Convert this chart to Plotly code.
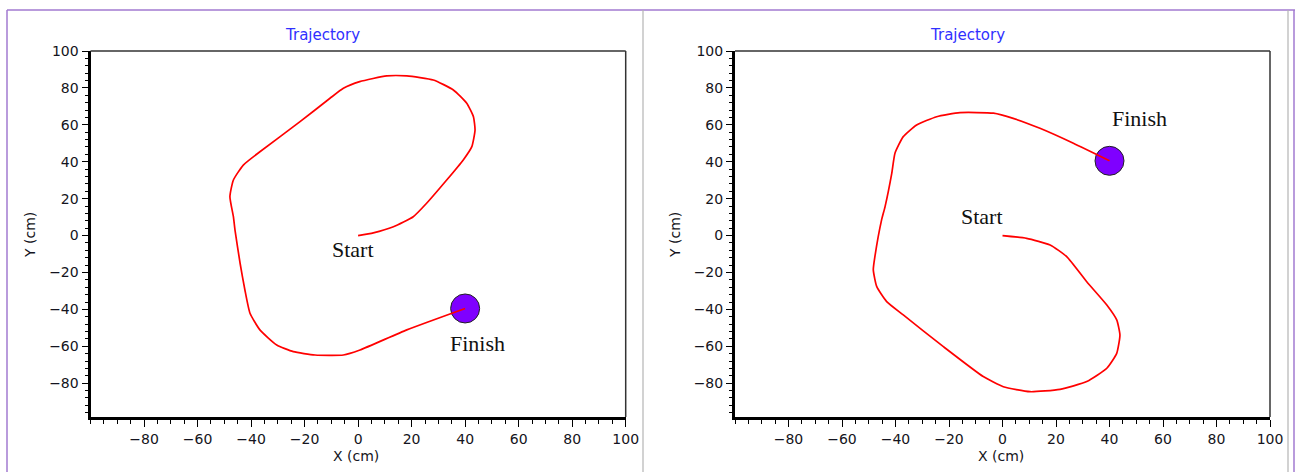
import plotly.graph_objects as go

# ---------------- data ----------------
left_x = [0, 5.7, 13.2, 20.6, 25.6, 33.1, 39.3, 42.5, 43.7, 43.1, 40.6, 35.6, 28.1, 18.2,
          10.7, 0.6, -5.5, -10.5, -21.7, -36.7, -42.9, -46.6, -47.9, -46.6, -46.0, -44.1,
          -42.3, -40.4, -36.7, -30.4, -24.2, -16.1, -5.5, 0.7, 18.2, 40]
left_y = [0, 1.5, 4.8, 10.2, 17.5, 30.1, 41.0, 48.2, 57.2, 64.4, 71.7, 78.9, 84.3, 86.5,
          86.5, 83.4, 79.8, 74.4, 61.7, 45.4, 38.2, 30.1, 21.1, 10.2, 3.0, -15.0,
          -29.5, -42.1, -51.1, -59.3, -62.9, -64.7, -64.7, -62.0, -51.1, -39.5]

right_x = [0, 9.0, 17.8, 24.0, 31.5, 39.0, 42.7, 43.9, 42.7, 39.0, 31.5, 21.5, 10.3, 0.3,
           -7.2, -22.1, -37.1, -43.3, -47.0, -48.3, -47.7, -45.2, -43.9, -41.4, -40.2,
           -37.1, -32.1, -24.6, -15.9, -3.4, 4.0, 14.0, 26.5, 40]
right_y = [0, -1.5, -5.1, -11.4, -25.0, -37.6, -45.7, -53.9, -63.8, -71.9, -79.1, -83.3,
           -84.6, -81.9, -76.4, -60.2, -43.0, -35.8, -27.7, -18.6, -11.4, 8.5, 15.7, 33.7,
           44.6, 53.6, 59.9, 64.4, 66.6, 66.3, 63.5, 58.1, 50.0, 40.5]

x_tickvals = [-80, -60, -40, -20, 0, 20, 40, 60, 80, 100]
y_tickvals = [-80, -60, -40, -20, 0, 20, 40, 60, 80, 100]

title_text = "Trajectory"
x_title = "X (cm)"
y_title = "Y (cm)"

left_labels = [("Start", -2, -7.8), ("Finish", 44.5, -58.3)]
right_labels = [("Start", -7.7, 10.6), ("Finish", 51.2, 63.6)]

# ---------------- figure ----------------
W, H = 1295, 472
def px(x):
    return x / W
def py(y):
    return 1 - y / H

fig = go.Figure()

RED = "#ff0000"
MARK = "#7f00ff"

def add_panel(xs, ys, xa, ya):
    fig.add_trace(go.Scatter(x=[xs[-1]], y=[ys[-1]], mode="markers", xaxis=xa, yaxis=ya,
                             marker=dict(size=29, color=MARK, line=dict(color="#222222", width=1)),
                             showlegend=False, hoverinfo="skip"))
    fig.add_trace(go.Scatter(x=xs, y=ys, mode="lines", xaxis=xa, yaxis=ya,
                             line=dict(color=RED, width=1.7, shape="spline", smoothing=0.5),
                             showlegend=False, hoverinfo="skip"))

add_panel(left_x, left_y, "x", "y")
add_panel(right_x, right_y, "x2", "y2")

TICKFONT = dict(family="DejaVu Sans", size=14, color="#141420")
ydom = [1 - 417 / H, 1 - 51 / H]
xdom1 = [90.5 / W, 625.7 / W]
xdom2 = [735 / W, 1270 / W]

def xaxis_cfg(dom, anchor):
    return dict(domain=dom, anchor=anchor, range=[-100, 100], showgrid=False, zeroline=False,
                tickmode="array", tickvals=x_tickvals, ticks="outside", ticklen=7, tickwidth=1,
                tickcolor="#000", showline=True, linewidth=3, linecolor="#000",
                tickfont=TICKFONT, fixedrange=True, automargin=False,
                minor=dict(dtick=5, tick0=0, ticks="outside", ticklen=4, tickwidth=1, tickcolor="#000"))

def yaxis_cfg(anchor):
    return dict(domain=ydom, anchor=anchor, range=[-98.3, 100], showgrid=False, zeroline=False,
                tickmode="array", tickvals=y_tickvals, ticks="outside", ticklen=6, tickwidth=1,
                tickcolor="#000", showline=True, linewidth=3, linecolor="#000",
                tickfont=TICKFONT, fixedrange=True, automargin=False,
                minor=dict(dtick=4, tick0=0, ticks="outside", ticklen=3, tickwidth=1, tickcolor="#000"))

fig.update_layout(
    width=W, height=H, margin=dict(l=0, r=0, t=0, b=0, autoexpand=False),
    paper_bgcolor="white", plot_bgcolor="white", showlegend=False,
    xaxis=xaxis_cfg(xdom1, "y"), yaxis=yaxis_cfg("x"),
    xaxis2=xaxis_cfg(xdom2, "y2"), yaxis2=yaxis_cfg("x2"),
)

shapes = []
for xr, yr in (("x domain", "y domain"), ("x2 domain", "y2 domain")):
    shapes.append(dict(type="line", xref=xr, yref=yr, x0=0, x1=1, y0=1, y1=1,
                       line=dict(color="#333333", width=1.5)))
    shapes.append(dict(type="line", xref=xr, yref=yr, x0=1, x1=1, y0=0, y1=1,
                       line=dict(color="#333333", width=1.5)))
PURPLE = "#a27ad0"
GREY = "#b4b4b4"
shapes.append(dict(type="line", xref="paper", yref="paper", x0=px(7), x1=1, y0=py(10), y1=py(10),
                   line=dict(color=PURPLE, width=1.5)))
shapes.append(dict(type="line", xref="paper", yref="paper", x0=px(7), x1=px(7), y0=py(10), y1=0,
                   line=dict(color=PURPLE, width=1.5)))
shapes.append(dict(type="line", xref="paper", yref="paper", x0=px(1294), x1=px(1294), y0=py(10), y1=0,
                   line=dict(color=PURPLE, width=1.5)))
shapes.append(dict(type="line", xref="paper", yref="paper", x0=px(1288), x1=px(1288), y0=py(10), y1=0,
                   line=dict(color=GREY, width=1.2)))
shapes.append(dict(type="line", xref="paper", yref="paper", x0=px(643), x1=px(643), y0=py(10), y1=0,
                   line=dict(color=GREY, width=1.2)))
fig.update_layout(shapes=shapes)

ann = []
for cx in (322, 967):
    ann.append(dict(text=title_text, xref="paper", yref="paper", x=px(cx), y=py(35),
                    xanchor="center", yanchor="middle", showarrow=False,
                    font=dict(family="DejaVu Sans", size=15, color="#3030ff")))
for cx in (356, 1001):
    ann.append(dict(text=x_title, xref="paper", yref="paper", x=px(cx), y=py(456),
                    xanchor="center", yanchor="middle", showarrow=False,
                    font=dict(family="DejaVu Sans", size=14, color="#141420")))
for cx in (30, 675):
    ann.append(dict(text=y_title, xref="paper", yref="paper", x=px(cx), y=py(235),
                    xanchor="center", yanchor="middle", showarrow=False, textangle=-90,
                    font=dict(family="DejaVu Sans", size=14, color="#141420")))
for labels, xr, yr in ((left_labels, "x", "y"), (right_labels, "x2", "y2")):
    for t, lx, ly in labels:
        ann.append(dict(text=t, xref=xr, yref=yr, x=lx, y=ly, xanchor="center", yanchor="middle",
                        showarrow=False, font=dict(family="Liberation Serif", size=22, color="#111111")))
fig.update_layout(annotations=ann)

fig.write_html("out.html")
